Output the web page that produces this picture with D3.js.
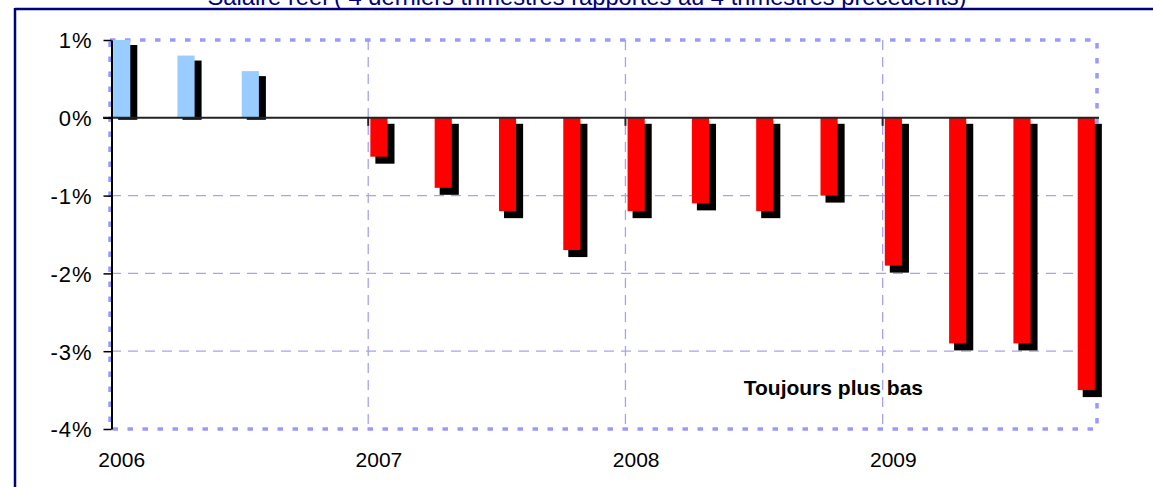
<!DOCTYPE html>
<html>
  <head>
    <meta charset="UTF-8">
    <title>Salaire réel</title>
    <style>
      body { margin: 0; background: #fff; }
      svg { display: block; }
      text { font-family: Arial, "Liberation Sans", sans-serif; }
    </style>
  </head>
  <body>
    <svg></svg>

    <script src="https://d3js.org/d3.v7.min.js"></script>
    <script>

/* DATA */

// quarters, as month index from January 2006
var quarters = ["2006T1", "2006T2", "2006T3", "2006T4",
                "2007T1", "2007T2", "2007T3", "2007T4",
                "2008T1", "2008T2", "2008T3", "2008T4",
                "2009T1", "2009T2", "2009T3", "2009T4"];
// real wage growth, in %
var values = [1.0, 0.8, 0.6, null,
              -0.5, -0.9, -1.2, -1.7,
              -1.2, -1.1, -1.2, -1.0,
              -1.9, -2.9, -2.9, -3.5];
var years = ["2006", "2007", "2008", "2009"];
var yTicks = [1, 0, -1, -2, -3, -4];

var title = "Salaire réel ( 4 derniers trimestres rapportés au 4 trimestres précédents)";
var note = "Toujours plus bas";

var config = {
  "width": 1153,
  "height": 487,
  "months": 46,
  "margin": { "top": 40, "right": 56, "bottom": 58, "left": 111 }
};

/* BUILD THE VISUALIZATION */

var svg = d3.select("svg")
  .attr("width", config.width)
  .attr("height", config.height);

var margin = config.margin,
  x0 = margin.left,
  x1 = config.width - margin.right,
  y0 = margin.top,
  y1 = config.height - margin.bottom;

// month scale
var x = d3.scaleLinear().domain([0, config.months]).range([x0, x1]);
var step = x(1) - x(0);

var y = d3.scaleLinear().domain([-4, 1]).range([y1, y0]);

var data = quarters.map(function(q, i){
  return { "q": q, "month": i * 3, "value": values[i] };
}).filter(function(d){ return d.value !== null; });

// outer frame
svg.append("line")
  .attr("x1", 15).attr("x2", config.width)
  .attr("y1", 9).attr("y2", 9)
  .attr("stroke", "#000080").attr("stroke-width", 2.5);
svg.append("line")
  .attr("x1", 15).attr("x2", 15)
  .attr("y1", 8).attr("y2", config.height)
  .attr("stroke", "#000080").attr("stroke-width", 2.5);

// title (cut by the top edge, as in the source)
svg.append("text")
  .attr("x", 587)
  .attr("y", 4.5)
  .attr("text-anchor", "middle")
  .attr("fill", "#000080")
  .attr("font-size", "24px")
  .attr("textLength", 759)
  .attr("lengthAdjust", "spacingAndGlyphs")
  .text(title);

// gridlines
svg.append("g").selectAll("line")
  .data(yTicks.filter(function(d){ return d < 0 && d > -4; }))
  .enter().append("line")
    .attr("x1", x0).attr("x2", x1)
    .attr("y1", function(d){ return y(d); })
    .attr("y2", function(d){ return y(d); })
    .attr("stroke", "#a4a4f2")
    .attr("stroke-width", 1.3)
    .attr("stroke-dasharray", "10,7");

svg.append("g").selectAll("line")
  .data(years.slice(1))
  .enter().append("line")
    .attr("x1", function(d, i){ return x((i + 1) * 12); })
    .attr("x2", function(d, i){ return x((i + 1) * 12); })
    .attr("y1", y0).attr("y2", y1)
    .attr("stroke", "#a4a4f2")
    .attr("stroke-width", 1.3)
    .attr("stroke-dasharray", "10,7");

// dotted plot border
svg.append("rect")
  .attr("x", x0 - 1).attr("y", y0)
  .attr("width", x1 - x0 + 1).attr("height", y1 - y0)
  .attr("fill", "none")
  .attr("stroke", "#9999ff")
  .attr("stroke-width", 3.5)
  .attr("stroke-dasharray", "5.5,9.5");

// bars with shadows
var bw = step * 0.8;
var bars = svg.append("g").selectAll("g")
  .data(data)
  .enter().append("g");

bars.append("rect")
  .attr("fill", "#000")
  .attr("x", function(d){ return x(d.month) + step * 0.1 + 5; })
  .attr("width", bw + 2)
  .attr("y", function(d){ return d.value >= 0 ? y(d.value) + 5 : y(0) + 6; })
  .attr("height", function(d){
    return d.value >= 0 ? y(0) + 2 - (y(d.value) + 5) : y(d.value) + 7 - (y(0) + 6);
  });

bars.append("rect")
  .attr("fill", function(d){ return d.value >= 0 ? "#99ccff" : "#ff0000"; })
  .attr("x", function(d){ return x(d.month) + step * 0.1; })
  .attr("width", bw)
  .attr("y", function(d){ return Math.min(y(d.value), y(0)); })
  .attr("height", function(d){ return Math.abs(y(d.value) - y(0)); })
  .append("title")
    .text(function(d){ return d.q + " : " + d.value + "%"; });

// zero line
svg.append("line")
  .attr("x1", x0 - 8).attr("x2", x1 + 2)
  .attr("y1", y(0)).attr("y2", y(0))
  .attr("stroke", "#222").attr("stroke-width", 2);

// year ticks on zero line
svg.append("g").selectAll("line")
  .data(years.slice(1))
  .enter().append("line")
    .attr("x1", function(d, i){ return x((i + 1) * 12); })
    .attr("x2", function(d, i){ return x((i + 1) * 12); })
    .attr("y1", y(0)).attr("y2", y(0) + 8)
    .attr("stroke", "#222").attr("stroke-width", 2);

// y axis
var yAxis = svg.append("g")
  .attr("transform", "translate(" + (x0 + 0.5) + ",0)")
  .call(d3.axisLeft(y)
    .tickValues(yTicks)
    .tickFormat(function(d){ return d + "%"; })
    .tickSize(8)
    .tickSizeOuter(0)
    .tickPadding(11));

yAxis.select(".domain").attr("stroke", "#000").attr("stroke-width", 2);
yAxis.selectAll(".tick line").attr("stroke", "#000").attr("stroke-width", 1.5);
yAxis.selectAll(".tick text")
  .attr("fill", "#000")
  .attr("font-size", "22px")
  .attr("font-family", "Arial, 'Liberation Sans', sans-serif")
  .attr("letter-spacing", "1px")
  .attr("dy", "0.36em");

// x labels (years)
svg.append("g").selectAll("text")
  .data(years)
  .enter().append("text")
    .attr("x", function(d, i){ return x(i * 12 + 0.5); })
    .attr("y", 467)
    .attr("text-anchor", "middle")
    .attr("font-size", "21px")
    .attr("fill", "#000")
    .text(function(d){ return d; });

// annotation
svg.append("text")
  .attr("x", x(33.7))
  .attr("y", y(-3.56))
  .attr("text-anchor", "middle")
  .attr("font-size", "21px")
  .attr("font-weight", "bold")
  .attr("fill", "#000")
  .text(note);

    </script>
  </body>
</html>
